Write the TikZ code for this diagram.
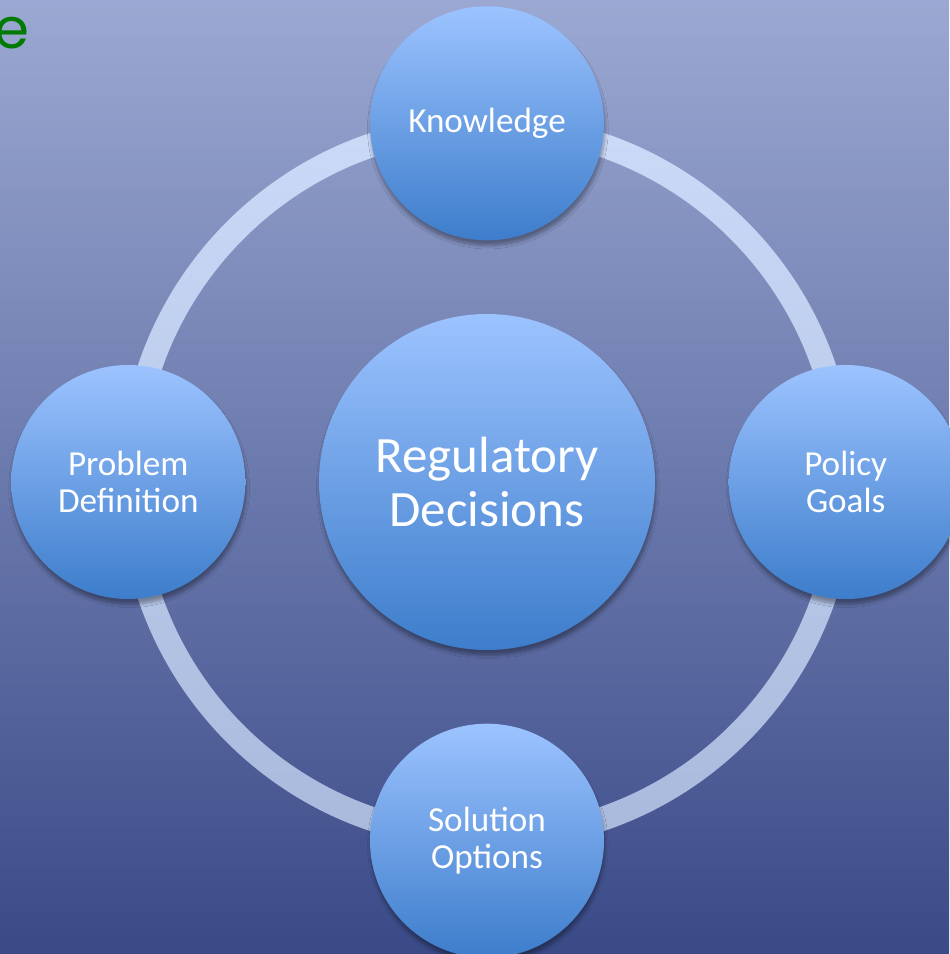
\documentclass[tikz,border=0pt]{standalone}
\usepackage{fontspec}
\setmainfont{Carlito}
\newfontfamily\titlefont{Poppins}
\usetikzlibrary{positioning, shadows.blur}
\definecolor{bgtop}{HTML}{9BA8D2}
\definecolor{bgbot}{HTML}{3A4A87}
\definecolor{balltop}{HTML}{9CC3FF}
\definecolor{ballbot}{HTML}{3D7DCB}
\definecolor{ringtop}{HTML}{CBDAF7}
\definecolor{ringbot}{HTML}{A8B9DC}
\definecolor{titlegreen}{HTML}{007A00}
\tikzset{%
	ball/.style={circle, inner sep=0mm, top color=balltop, bottom color=ballbot,%
		text=white, align=center,%
		blur shadow={shadow xshift=0.5pt, shadow yshift=-3pt, shadow opacity=35, shadow blur steps=6}},
	stage/.style={ball, minimum size=4.68cm, font=\fontsize{20}{21}\selectfont},
	core/.style={ball, minimum size=6.72cm, font=\fontsize{29}{31}\selectfont},
	ring/.style={top color=ringtop, bottom color=ringbot, even odd rule}
}
\begin{document}
\begin{tikzpicture}[node distance=1.46cm]
		\useasboundingbox (-9.74,-9.44) rectangle (9.24,9.64);
		\shade[top color=bgtop, bottom color=bgbot] (-9.74,-9.44) rectangle (9.24,9.64);
		\node[titlegreen, anchor=east, inner sep=0pt, font=\titlefont\fontsize{32}{32}\selectfont] (ttl) at (-9.14,8.98) {e};
		% ring behind the stages
		\shade[ring] (0,0) circle (7.36) (0,0) circle (6.88);
		\node[core] (dec) at (0,0) {Regulatory\\Decisions};
		\node[stage] (know) [above=of dec] {Knowledge};
		\node[stage] (goal) [right=of dec] {Policy\\Goals};
		\node[stage] (sol)  [below=of dec] {Solution\\Options};
		\node[stage] (prob) [left=of dec]  {Problem\\Definition};
\end{tikzpicture}
\end{document}
